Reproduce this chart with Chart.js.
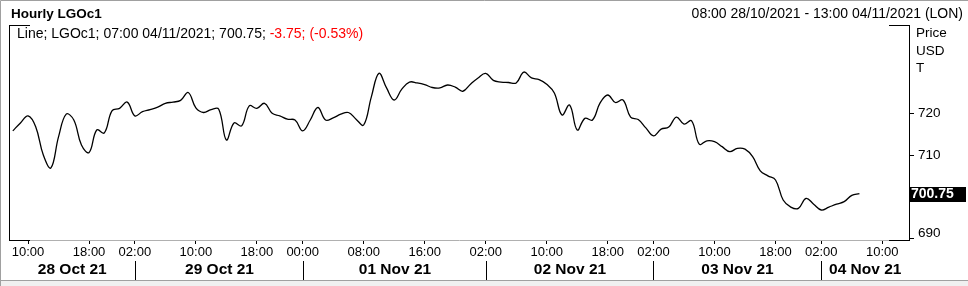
<!DOCTYPE html>
<html>
<head>
<meta charset="utf-8">
<script src="https://cdn.jsdelivr.net/npm/chart.js@4/dist/chart.umd.min.js"></script>
<style>
html, body { margin: 0; padding: 0; background: #fff; }
canvas { display: block; }
</style>
</head>
<body>
<canvas id="grafico-lgo" width="968" height="286"></canvas>
<script>
// Sessões horárias (ICE Gasoil, horário de Londres)
const diasRotulo = ['28 Oct 21', '29 Oct 21', '01 Nov 21', '02 Nov 21', '03 Nov 21', '04 Nov 21'];
const diasData = ['28/10', '29/10', '01/11', '02/11', '03/11', '04/11'];
const sessoes = [
    { dia: '28/10', de: 8, ate: 22 },
    { dia: '29/10', de: 1, ate: 22 },
    { dia: '31/10', de: 23, ate: 23 },
    { dia: '01/11', de: 0, ate: 22 },
    { dia: '02/11', de: 1, ate: 22 },
    { dia: '03/11', de: 1, ate: 22 },
    { dia: '04/11', de: 1, ate: 13 }
];

// horários que levam rótulo no eixo x
const marcasX = [
    '28/10 10:00', '28/10 18:00', '29/10 02:00', '29/10 10:00', '29/10 18:00',
    '01/11 00:00', '01/11 08:00', '01/11 16:00', '02/11 02:00', '02/11 10:00',
    '02/11 18:00', '03/11 02:00', '03/11 10:00', '03/11 18:00', '04/11 02:00',
    '04/11 10:00'
];

const marcasY = [690, 700, 710, 720];

// Preço de fechamento por hora (USD/t)
const precos = [
    715.8, 717.7, 719.4, 716.8, 710.0, 706.9, 714.4, 719.8, 718.4, 712.4,
    710.6, 716.0, 715.3, 720.6, 721.2, 722.7, 719.4, 720.4, 720.9, 721.5,
    722.4, 722.7, 723.1, 725.0, 721.3, 720.2, 720.9, 721.0, 713.6, 717.7,
    717.0, 721.8, 721.2, 722.4, 720.0, 719.4, 718.6, 718.4, 715.8, 718.4,
    721.4, 718.4, 718.9, 719.8, 720.2, 718.6, 717.2, 723.9, 729.6, 726.1,
    723.2, 725.8, 727.5, 727.3, 726.9, 726.2, 726.1, 726.8, 726.3, 725.3,
    727.0, 728.5, 729.6, 727.9, 727.5, 727.4, 727.3, 729.9, 728.5, 728.1,
    727.0, 724.9, 719.6, 722.0, 716.0, 718.8, 718.4, 722.5, 724.4, 722.6,
    723.2, 719.1, 718.5, 716.5, 714.6, 716.2, 716.7, 719.1, 717.4, 718.2,
    712.6, 713.4, 713.2, 712.0, 710.8, 711.6, 711.4, 709.6, 706.2, 705.0,
    704.0, 699.2, 697.5, 697.2, 699.6, 698.2, 696.8, 697.5, 698.2, 698.8,
    700.3, 700.75
];

const ultimo = 700.75;
const legendaPreta = 'Line; LGOc1; 07:00 04/11/2021; 700.75; ';
const legendaVermelha = '-3.75; (-0.53%)';

const rotulos = [];
sessoes.forEach(s => {
    for (let h = s.de; h <= s.ate; h++) {
        rotulos.push(s.dia + ' ' + String(h).padStart(2, '0') + ':00');
    }
});

const FONTE = '"Liberation Sans", Arial, sans-serif';

const decoracao = {
    id: 'decoracao',
    afterDraw(chart) {
        const ctx = chart.ctx;
        const area = chart.chartArea;
        const x = chart.scales.x;
        const y = chart.scales.y;
        ctx.save();

        // moldura
        ctx.strokeStyle = '#000';
        ctx.lineWidth = 1;
        ctx.beginPath();
        ctx.moveTo(area.left + 0.5, area.top);
        ctx.lineTo(area.left + 0.5, area.bottom + 0.5);
        ctx.moveTo(area.left, area.top + 0.5);
        ctx.lineTo(area.left + 21, area.top + 0.5);
        ctx.moveTo(area.right - 20, area.top + 0.5);
        ctx.lineTo(area.right, area.top + 0.5);
        ctx.moveTo(area.left, area.bottom + 0.5);
        ctx.lineTo(area.left + 21, area.bottom + 0.5);
        ctx.moveTo(area.right - 20, area.bottom + 0.5);
        ctx.lineTo(area.right, area.bottom + 0.5);
        ctx.stroke();

        // rótulos do eixo y
        ctx.fillStyle = '#000';
        ctx.font = '13.5px ' + FONTE;
        ctx.textAlign = 'left';
        ctx.textBaseline = 'middle';
        marcasY.forEach(v => {
            const py = Math.min(y.getPixelForValue(v), area.bottom - 7);
            ctx.fillText(String(v), area.right + 9, py);
        });
        ctx.fillText('Price', area.right + 7, 33);
        ctx.fillText('USD', area.right + 7, 51);
        ctx.fillText('T', area.right + 7, 68);

        // caixa do último valor
        const yu = y.getPixelForValue(ultimo);
        ctx.fillStyle = '#000';
        ctx.fillRect(area.right + 1, Math.round(yu) - 7, 56, 15);
        ctx.fillStyle = '#fff';
        ctx.font = 'bold 14px ' + FONTE;
        ctx.fillText(ultimo.toFixed(2), area.right + 2, Math.round(yu) + 0.5);

        // linha das datas
        const seps = [];
        diasData.forEach((d, i) => {
            if (i === 0) return;
            const idx = rotulos.findIndex(r => r.startsWith(d) && marcasX.includes(r));
            seps.push(Math.round(x.getPixelForValue(idx)) + 0.5);
        });
        ctx.strokeStyle = '#000';
        ctx.beginPath();
        seps.forEach(sx => {
            ctx.moveTo(sx, 261);
            ctx.lineTo(sx, 280);
        });
        ctx.stroke();
        const limites = [area.left].concat(seps, [area.right]);
        ctx.fillStyle = '#000';
        ctx.font = 'bold 15.5px ' + FONTE;
        ctx.textAlign = 'center';
        diasRotulo.forEach((t, i) => {
            ctx.fillText(t, (limites[i] + limites[i + 1]) / 2, 270);
        });

        // cabeçalho
        ctx.textAlign = 'left';
        ctx.font = 'bold 13.5px ' + FONTE;
        ctx.fillText('Hourly LGOc1', 11, 14);
        ctx.font = '14px ' + FONTE;
        ctx.textAlign = 'right';
        ctx.fillText('08:00 28/10/2021 - 13:00 04/11/2021 (LON)', 963, 14);

        // legenda dentro do gráfico
        ctx.textAlign = 'left';
        ctx.fillText(legendaPreta, 17, 34);
        const w = ctx.measureText(legendaPreta).width;
        ctx.fillStyle = '#ff0000';
        ctx.fillText(legendaVermelha, 17 + w, 34);

        // borda externa
        ctx.fillStyle = '#f0f0f0';
        ctx.fillRect(0, 281, 968, 5);
        ctx.strokeStyle = '#a0a0a0';
        ctx.beginPath();
        ctx.moveTo(0.5, 286);
        ctx.lineTo(0.5, 0.5);
        ctx.lineTo(968, 0.5);
        ctx.moveTo(0, 280.5);
        ctx.lineTo(968, 280.5);
        ctx.stroke();
        ctx.restore();
    }
};

const corMarca = c => (c.tick && c.tick.label ? '#000' : 'rgba(0,0,0,0)');

new Chart(document.getElementById('grafico-lgo').getContext('2d'), {
    type: 'line',
    data: {
        labels: rotulos,
        datasets: [{
            label: 'LGOc1',
            data: precos,
            borderColor: '#000',
            borderWidth: 1.3,
            pointRadius: 0,
            tension: 0.4,
            fill: false
        }]
    },
    options: {
        responsive: false,
        animation: false,
        devicePixelRatio: 1,
        layout: { padding: { left: 9, top: 25, right: 0, bottom: 0 } },
        plugins: { legend: { display: false }, tooltip: { enabled: false } },
        scales: {
            x: {
                type: 'category',
                offset: true,
                afterFit: s => { s.height = 46; },
                border: { display: true, color: '#b0b0b0' },
                grid: {
                    drawOnChartArea: false,
                    tickLength: 4,
                    color: corMarca,
                    tickColor: corMarca
                },
                ticks: {
                    autoSkip: false,
                    maxRotation: 0,
                    padding: 1,
                    color: '#000',
                    font: { family: FONTE, size: 13 },
                    callback: (v, i) => (marcasX.includes(rotulos[i]) ? rotulos[i].slice(6) : '')
                }
            },
            y: {
                position: 'right',
                min: 689.6,
                max: 741.2,
                afterFit: s => { s.width = 59; },
                afterBuildTicks: s => { s.ticks = marcasY.map(v => ({ value: v })); },
                border: { display: true, color: '#000' },
                grid: { drawOnChartArea: false, tickLength: 5, color: '#000' },
                ticks: { display: false }
            }
        }
    },
    plugins: [decoracao]
});
</script>
</body>
</html>
